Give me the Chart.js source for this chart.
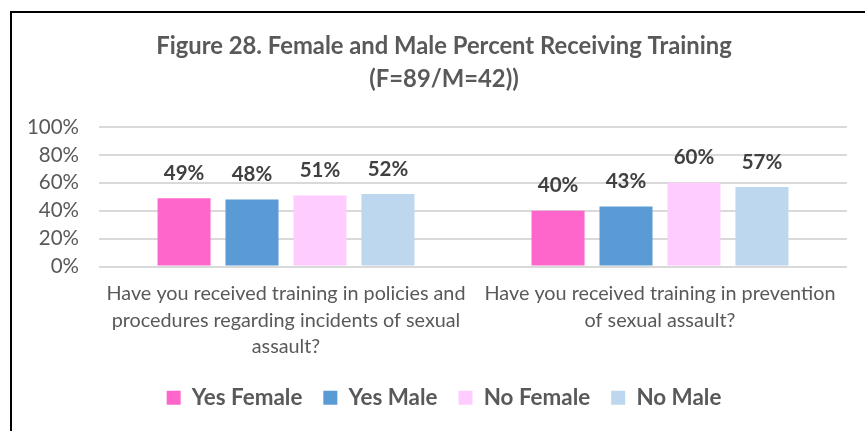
<!DOCTYPE html>
<html>
<head>
<meta charset="utf-8">
<script src="https://cdn.jsdelivr.net/npm/chart.js@4"></script>
<style>
  html, body { margin: 0; padding: 0; background: #fff; overflow: hidden; }
  #frame { position: absolute; left: 10px; top: 11px; width: 900px; height: 500px;
           border-top: 2px solid #000; border-left: 2px solid #000; }
  #chart { position: absolute; left: 0; top: 0; }
</style>
</head>
<body>
<div id="frame"></div>
<canvas id="chart" width="865" height="431"></canvas>
<script>
const categories = [
  ["Have you received training in policies and", "procedures regarding incidents of sexual", "assault?"],
  ["Have you received training in prevention", "of sexual assault?"]
];
const yesFemale = [49, 40];
const yesMale = [48, 43];
const noFemale = [51, 60];
const noMale = [52, 57];
const seriesNames = ["Yes Female", "Yes Male", "No Female", "No Male"];
const seriesColors = ["#FF66CC", "#5B9BD5", "#FFCCFF", "#BDD7EE"];
const titleLines = ["Figure 28. Female and Male Percent Receiving Training", "(F=89/M=42))"];

const FONT = "Lato";
const gray = "#595959";

// labels above each bar
const barLabels = {
  id: "barLabels",
  afterDatasetsDraw(chart) {
    const ctx = chart.ctx;
    ctx.save();
    ctx.font = "bold 20.5px " + FONT;
    ctx.fillStyle = "#404040";
    ctx.textAlign = "center";
    ctx.textBaseline = "middle";
    chart.data.datasets.forEach((ds, i) => {
      chart.getDatasetMeta(i).data.forEach((bar, j) => {
        ctx.fillText(ds.data[j] + "%", bar.x, bar.y - 25);
      });
    });
    ctx.restore();
  }
};

const seriesData = [yesFemale, yesMale, noFemale, noMale];

new Chart(document.getElementById("chart"), {
  type: "bar",
  data: {
    labels: categories,
    datasets: seriesNames.map((name, i) => ({
      label: name,
      data: seriesData[i],
      backgroundColor: seriesColors[i],
      borderWidth: 0,
      categoryPercentage: 0.727,
      barPercentage: 0.78
    }))
  },
  options: {
    responsive: false,
    animation: false,
    layout: { padding: { left: 23, right: 0, top: 14, bottom: 12 } },
    plugins: {
      title: {
        display: true,
        text: titleLines,
        color: gray,
        font: { family: FONT, size: 23.8, weight: "bold", lineHeight: "33px" },
        padding: { top: 16, bottom: 31 }
      },
      legend: {
        position: "bottom",
        labels: {
          boxWidth: 14,
          boxHeight: 14,
          padding: 21,
          color: gray,
          font: { family: FONT, size: 22.4, weight: "bold" }
        }
      },
      tooltip: { enabled: false }
    },
    scales: {
      x: {
        afterFit(scale) { scale.height = 99; },
        grid: { display: false, drawTicks: false },
        border: { display: false },
        ticks: {
          color: gray,
          padding: 14,
          maxRotation: 0,
          font: { family: FONT, size: 19.8, lineHeight: "26.5px" }
        }
      },
      y: {
        min: 0,
        max: 100,
        afterFit(scale) { scale.width = 76; },
        border: { display: false },
        grid: { color: "#D9D9D9", lineWidth: 2, drawTicks: false },
        ticks: {
          stepSize: 20,
          padding: 20,
          color: gray,
          font: { family: FONT, size: 20.5 },
          callback: v => v + "%"
        }
      },
      yRight: {
        position: "right",
        display: true,
        afterFit(scale) { scale.width = 18; },
        grid: { display: false },
        border: { display: false },
        ticks: { display: false }
      }
    }
  },
  plugins: [barLabels]
});
</script>
</body>
</html>
